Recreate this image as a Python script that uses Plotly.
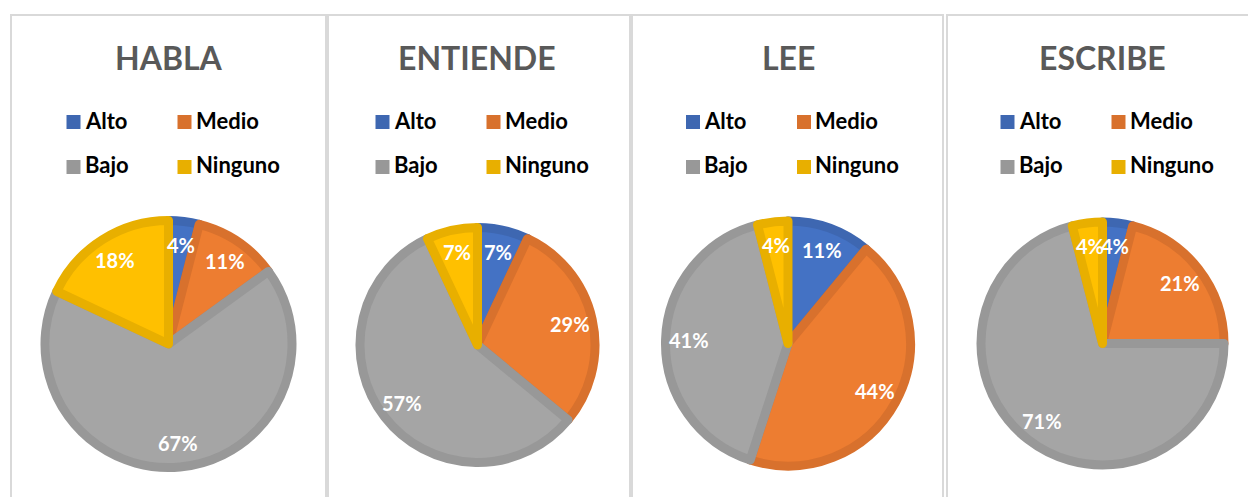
import math
import plotly.graph_objects as go

W, H = 1248, 497

# ---- data ----
categories = ["Alto", "Medio", "Bajo", "Ninguno"]
titles = ["HABLA", "ENTIENDE", "LEE", "ESCRIBE"]
habla = [4, 11, 67, 18]
entiende = [7, 29, 57, 7]
lee = [11, 44, 41, 4]
escribe = [4, 21, 71, 4]
series = [habla, entiende, lee, escribe]

# ---- style ----
fill_colors = ["#4472C4", "#ED7D31", "#A5A5A5", "#FFC000"]
line_colors = ["#3E67B1", "#D8712D", "#989898", "#E8AF00"]
FONT = "Lato"

# panel geometry in pixels
centers_x = [168.5, 477.5, 788.0, 1102.5]
centers_y = [344.0, 345.0, 343.5, 343.5]
outer_r = [128, 122, 127, 126]
LINE_W = 9
panels = [(11, 326), (328, 630), (632, 943), (947, 1262)]
PANEL_TOP = 15

def px(x):
    return x / W

def py(y):
    return (H - y) / H

fig = go.Figure()
shapes = []
annotations = []

for i, (vals, title) in enumerate(zip(series, titles)):
    cx, cy, ro = centers_x[i], centers_y[i], outer_r[i]
    rp = ro - LINE_W / 2
    fig.add_trace(go.Pie(
        labels=categories,
        values=vals,
        sort=False,
        direction="clockwise",
        rotation=0,
        marker=dict(colors=fill_colors,
                    line=dict(color=line_colors, width=LINE_W)),
        textinfo="none",
        hoverinfo="label+percent",
        showlegend=False,
        domain=dict(x=[px(cx - rp), px(cx + rp)],
                    y=[py(cy + rp), py(cy - rp)]),
    ))

    # percentage labels placed from data angles
    total = sum(vals)
    cum = 0
    for v in vals:
        m = (cum + v / 2) / total
        cum += v
        th = 2 * math.pi * m
        R = 0.78 * ro
        lx = cx + R * math.sin(th)
        ly = cy - R * math.cos(th)
        annotations.append(dict(
            x=px(lx), y=py(ly), xref="paper", yref="paper",
            text=f"<b>{round(100 * v / total)}%</b>", showarrow=False,
            xanchor="center", yanchor="middle",
            font=dict(family=FONT, size=20, color="white"),
        ))

    # title
    annotations.append(dict(
        x=px(cx), y=py(57.5), xref="paper", yref="paper",
        text=f"<b>{title}</b>", showarrow=False,
        xanchor="center", yanchor="middle",
        font=dict(family=FONT, size=32, color="#595959"),
    ))

    # legend (2 x 2)
    offs_x = [-102, 9]
    rows_y = [122, 167]
    for k, cat in enumerate(categories):
        sx = cx + offs_x[k % 2]
        sy = rows_y[k // 2]
        shapes.append(dict(
            type="rect", xref="paper", yref="paper",
            x0=px(sx), x1=px(sx + 14), y0=py(sy + 7), y1=py(sy - 7),
            fillcolor=line_colors[k], line=dict(width=0),
        ))
        annotations.append(dict(
            x=px(sx + 16), y=py(sy - 2), xref="paper", yref="paper",
            text=f"<b>{cat}</b>", showarrow=False,
            xanchor="left", yanchor="middle",
            font=dict(family=FONT, size=22, color="#000000"),
        ))

# panel frames
for (x0, x1) in panels:
    shapes.append(dict(
        type="rect", xref="paper", yref="paper", layer="below",
        x0=px(x0), x1=px(x1), y0=py(H + 20), y1=py(PANEL_TOP),
        line=dict(color="#D9D9D9", width=2), fillcolor="rgba(0,0,0,0)",
    ))

fig.update_layout(
    width=W, height=H,
    margin=dict(l=0, r=0, t=0, b=0),
    paper_bgcolor="white", plot_bgcolor="white",
    shapes=shapes, annotations=annotations,
    showlegend=False,
)

fig.write_html(
    "out.html",
    config={"displayModeBar": False},
    post_script="document.body.style.margin='0';document.body.style.overflow='hidden';",
)
